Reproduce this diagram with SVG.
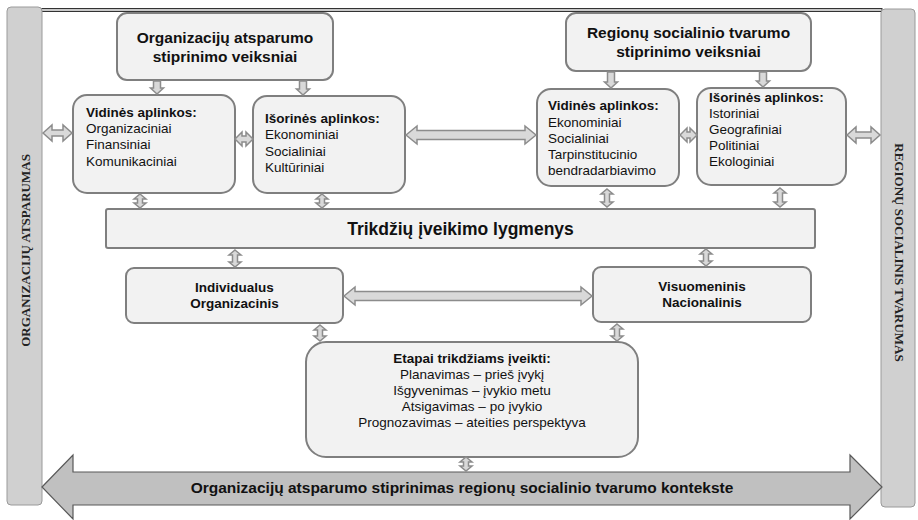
<svg xmlns="http://www.w3.org/2000/svg" width="918" height="520" viewBox="0 0 918 520">
<style>
.box{fill:#f2f2f2;stroke:#7f7f7f;stroke-width:2}
.bar{fill:#d0d0d0;stroke:#9a9a9a;stroke-width:1}
.arr{fill:#d9d9d9;stroke:#8c8c8c;stroke-width:1.5;stroke-linejoin:miter}
.big{fill:#c0c0c0;stroke:#595959;stroke-width:1.2}
.t{font-family:"Liberation Sans",Arial,sans-serif;font-size:13.5px;fill:#111}
.b{font-weight:bold}
.c{text-anchor:middle}
.side{font-family:"Liberation Serif","Times New Roman",serif;font-size:13px;font-weight:bold;fill:#222;text-anchor:middle}
</style>
<rect width="918" height="520" fill="#fff"/>
<g id="frame">
<rect x="41" y="8.5" width="841" height="3" fill="#c8c8c8" stroke="#333" stroke-width="1"/>
</g>
<g id="leftbar">
<rect class="bar" x="7" y="7" width="35" height="498" rx="4"/>
<text class="side" transform="translate(29.5,250.5) rotate(-90)">ORGANIZACIJŲ ATSPARUMAS</text>
</g>
<g id="rightbar">
<rect class="bar" x="881" y="9" width="34" height="498" rx="4"/>
<text class="side" transform="translate(894.5,252.5) rotate(90)">REGIONŲ SOCIALINIS TVARUMAS</text>
</g>
<g id="bottomarrow">
<polygon class="big" points="42,487 73,455 73,472 850,472 850,455 882,487 850,519 850,505 73,505 73,519"/>
<text class="t b c" x="462" y="493" style="font-size:15.5px">Organizacijų atsparumo stiprinimas regionų socialinio tvarumo kontekste</text>
</g>
<g id="orgTitle">
<rect class="box" x="117" y="13" width="216" height="67" rx="10"/>
<text class="t b c" x="225" y="43" style="font-size:15.5px">Organizacijų atsparumo</text>
<text class="t b c" x="225" y="62" style="font-size:15.5px">stiprinimo veiksniai</text>
</g>
<g id="orgVid">
<rect class="box" x="73" y="95" width="162" height="98" rx="14"/>
<text class="t b" x="86" y="117">Vidinės aplinkos:</text>
<text class="t" x="86" y="133">Organizaciniai</text>
<text class="t" x="86" y="149">Finansiniai</text>
<text class="t" x="86" y="166">Komunikaciniai</text>
</g>
<g id="orgIsor">
<rect class="box" x="253" y="96" width="152" height="97" rx="14"/>
<text class="t b" x="265" y="123">Išorinės aplinkos:</text>
<text class="t" x="265" y="139">Ekonominiai</text>
<text class="t" x="265" y="156">Socialiniai</text>
<text class="t" x="265" y="172">Kultūriniai</text>
</g>
<g id="regTitle">
<rect class="box" x="566" y="13" width="245" height="58" rx="10"/>
<text class="t b c" x="688.5" y="38" style="font-size:15.5px">Regionų socialinio tvarumo</text>
<text class="t b c" x="688.5" y="57" style="font-size:15.5px">stiprinimo veiksniai</text>
</g>
<g id="regVid">
<rect class="box" x="537" y="89" width="142" height="97" rx="14"/>
<text class="t b" x="548" y="110">Vidinės aplinkos:</text>
<text class="t" x="548" y="126.5">Ekonominiai</text>
<text class="t" x="548" y="143">Socialiniai</text>
<text class="t" x="548" y="159">Tarpinstitucinio</text>
<text class="t" x="548" y="175">bendradarbiavimo</text>
</g>
<g id="regIsor">
<rect class="box" x="697" y="88" width="149" height="97" rx="14"/>
<text class="t b" x="709" y="102">Išorinės aplinkos:</text>
<text class="t" x="709" y="118">Istoriniai</text>
<text class="t" x="709" y="134">Geografiniai</text>
<text class="t" x="709" y="150">Politiniai</text>
<text class="t" x="709" y="166">Ekologiniai</text>
</g>
<g id="trik">
<rect class="box" x="106" y="209" width="709" height="39" rx="2"/>
<text class="t b c" x="460.5" y="235" style="font-size:17.5px">Trikdžių įveikimo lygmenys</text>
</g>
<g id="indiv">
<rect class="box" x="126" y="268" width="217" height="55" rx="8"/>
<text class="t b c" x="234.5" y="292">Individualus</text>
<text class="t b c" x="234.5" y="308">Organizacinis</text>
</g>
<g id="visuo">
<rect class="box" x="593" y="267" width="218" height="55" rx="8"/>
<text class="t b c" x="702" y="291">Visuomeninis</text>
<text class="t b c" x="702" y="307">Nacionalinis</text>
</g>
<g id="etapai">
<rect class="box" x="306" y="342" width="332" height="115" rx="20"/>
<text class="t b c" x="472" y="363">Etapai trikdžiams įveikti:</text>
<text class="t c" x="472" y="378.5">Planavimas – prieš įvykį</text>
<text class="t c" x="472" y="394.5">Išgyvenimas – įvykio metu</text>
<text class="t c" x="472" y="410.5">Atsigavimas – po įvykio</text>
<text class="t c" x="472" y="426.5">Prognozavimas – ateities perspektyva</text>
</g>
<g id="connectors">
<polygon class="arr" points="153.5,81 160.5,81 160.5,88 163.5,88 157,94 150.5,88 153.5,88"/>
<polygon class="arr" points="299.5,81 306.5,81 306.5,89 309.5,89 303,95 296.5,89 299.5,89"/>
<polygon class="arr" points="607.5,72 614.5,72 614.5,82 617.5,82 611,88 604.5,82 607.5,82"/>
<polygon class="arr" points="759.5,72 766.5,72 766.5,81 769.5,81 763,87 756.5,81 759.5,81"/>
<polygon class="arr" points="43,133 52,125 52,130 63,130 63,125 72,133 63,141 63,136 52,136 52,141"/>
<polygon class="arr" points="235,139 242,132 242,136 246,136 246,132 253,139 246,146 246,142 242,142 242,146"/>
<polygon class="arr" points="406,135 417,126 417,130.5 525,130.5 525,126 536,135 525,144 525,139.5 417,139.5 417,144"/>
<polygon class="arr" points="680,135 687,128 687,132 690,132 690,128 697,135 690,142 690,138 687,138 687,142"/>
<polygon class="arr" points="847,135 856,127 856,132 871,132 871,127 880,135 871,143 871,138 856,138 856,143"/>
<polygon class="arr" points="344,296 355,287 355,291.5 581,291.5 581,287 592,296 581,305 581,300.5 355,300.5 355,305"/>
<polygon class="arr" points="140,194 146,199 142.5,199 142.5,203 146,203 140,208 134,203 137.5,203 137.5,199 134,199"/>
<polygon class="arr" points="322,194 328,199 324.5,199 324.5,203 328,203 322,208 316,203 319.5,203 319.5,199 316,199"/>
<polygon class="arr" points="607,189 613,194 609.5,194 609.5,202 613,202 607,207 601,202 604.5,202 604.5,194 601,194"/>
<polygon class="arr" points="780,188 786,193 782.5,193 782.5,202 786,202 780,207 774,202 777.5,202 777.5,193 774,193"/>
<polygon class="arr" points="235,250 241,255 237.5,255 237.5,262 241,262 235,267 229,262 232.5,262 232.5,255 229,255"/>
<polygon class="arr" points="706,249 712,254 708.5,254 708.5,261 712,261 706,266 700,261 703.5,261 703.5,254 700,254"/>
<polygon class="arr" points="320,325 326,330 322.5,330 322.5,336 326,336 320,341 314,336 317.5,336 317.5,330 314,330"/>
<polygon class="arr" points="617,324 623,329 619.5,329 619.5,336 623,336 617,341 611,336 614.5,336 614.5,329 611,329"/>
<polygon class="arr" points="466,457 472,462 468.5,462 468.5,466 472,466 466,471 460,466 463.5,466 463.5,462 460,462"/>
</g>
</svg>
